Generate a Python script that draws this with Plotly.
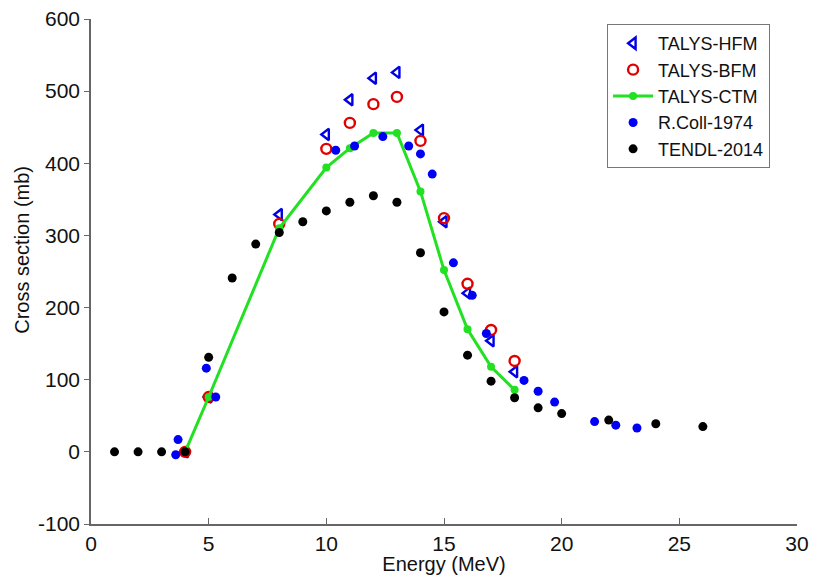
import plotly.graph_objects as go

# TALYS model energies (MeV)
talys_x = [4, 5, 8, 10, 11, 12, 13, 14, 15, 16, 17, 18]
hfm_y = [0, 76, 329, 440, 488, 518, 526, 446, 319, 220, 154, 111]
bfm_y = [0, 76, 316, 420, 456, 482, 492, 431, 324, 233, 169, 126]
ctm_y = [0, 76, 310, 394, 421, 442, 442, 361, 252, 170, 118, 86]

# R.Coll-1974 experimental data
rcoll_x = [3.6, 3.7, 4.9, 5.3, 10.4, 11.2, 12.4, 13.5, 14.0, 14.5, 15.4, 16.2, 16.8,
           18.4, 19.0, 19.7, 21.4, 22.3, 23.2]
rcoll_y = [-4, 17, 116, 76, 418, 424, 437, 424, 413, 385, 262, 217, 164,
           99, 84, 69, 42, 37, 33]

# TENDL-2014 evaluation
tendl_x = [1, 2, 3, 4, 5, 6, 7, 8, 9, 10, 11, 12, 13, 14, 15, 16, 17, 18, 19, 20, 22, 24, 26]
tendl_y = [0, 0, 0, 0, 131, 241, 288, 304, 319, 334, 346, 355, 346, 276, 194, 134, 98,
           75, 61, 53, 44, 39, 35]

x_ticks = [0, 5, 10, 15, 20, 25, 30]
y_ticks = [-100, 0, 100, 200, 300, 400, 500, 600]

FONT = "Liberation Sans, Arial, sans-serif"

fig = go.Figure()
fig.add_trace(go.Scatter(x=talys_x, y=hfm_y, mode="markers", name="TALYS-HFM",
                         marker=dict(symbol="triangle-left-open", size=10, color="#0000e6",
                                     line=dict(width=2.4, color="#0000e6"))))
fig.add_trace(go.Scatter(x=talys_x, y=bfm_y, mode="markers", name="TALYS-BFM",
                         marker=dict(symbol="circle-open", size=10, color="#e00000",
                                     line=dict(width=2.4, color="#e00000"))))
fig.add_trace(go.Scatter(x=talys_x, y=ctm_y, mode="lines+markers", name="TALYS-CTM",
                         line=dict(color="#22e022", width=3),
                         marker=dict(symbol="circle", size=8, color="#22e022")))
fig.add_trace(go.Scatter(x=rcoll_x, y=rcoll_y, mode="markers", name="R.Coll-1974",
                         marker=dict(symbol="circle", size=9, color="#0000f5")))
fig.add_trace(go.Scatter(x=tendl_x, y=tendl_y, mode="markers", name="TENDL-2014",
                         marker=dict(symbol="circle", size=9, color="#000000")))

# page body has an 8px margin, so the figure is sized/offset to compensate
fig.update_layout(
    width=809, height=567,
    margin=dict(l=83, r=20, t=11, b=51),
    paper_bgcolor="white", plot_bgcolor="white",
    font=dict(family=FONT, size=21, color="#111111"),
    showlegend=True,
    legend=dict(x=0.731, y=0.99, xanchor="left", yanchor="top",
                bgcolor="white", bordercolor="#777777", borderwidth=1,
                font=dict(family=FONT, size=18, color="#111111"),
                tracegroupgap=0, itemwidth=40),
    xaxis=dict(range=[0, 30], tickvals=x_ticks, ticktext=[str(v) for v in x_ticks],
               showgrid=False, zeroline=False, showline=True, linecolor="#666666",
               linewidth=1.5, ticks="inside", ticklen=6, tickcolor="#666666",
               automargin=False, ticklabeloverflow="allow",
               title=dict(text="Energy (MeV)", standoff=0, font=dict(size=20)),
               tickfont=dict(size=21)),
    yaxis=dict(range=[-100, 600], tickvals=y_ticks, ticktext=[str(v) for v in y_ticks],
               showgrid=False, zeroline=False, showline=True, linecolor="#666666",
               linewidth=1.5, ticks="outside", ticklen=5, tickcolor="#666666",
               automargin=False, ticklabeloverflow="allow", tickfont=dict(size=21)),
    annotations=[dict(text="Cross section (mb)", xref="paper", yref="paper",
                      x=-0.098, y=(524 - 250) / 505, xanchor="center", yanchor="middle",
                      textangle=-90, showarrow=False, font=dict(family=FONT, size=20, color="#111111"))],
)

fig.write_html("out.html")
